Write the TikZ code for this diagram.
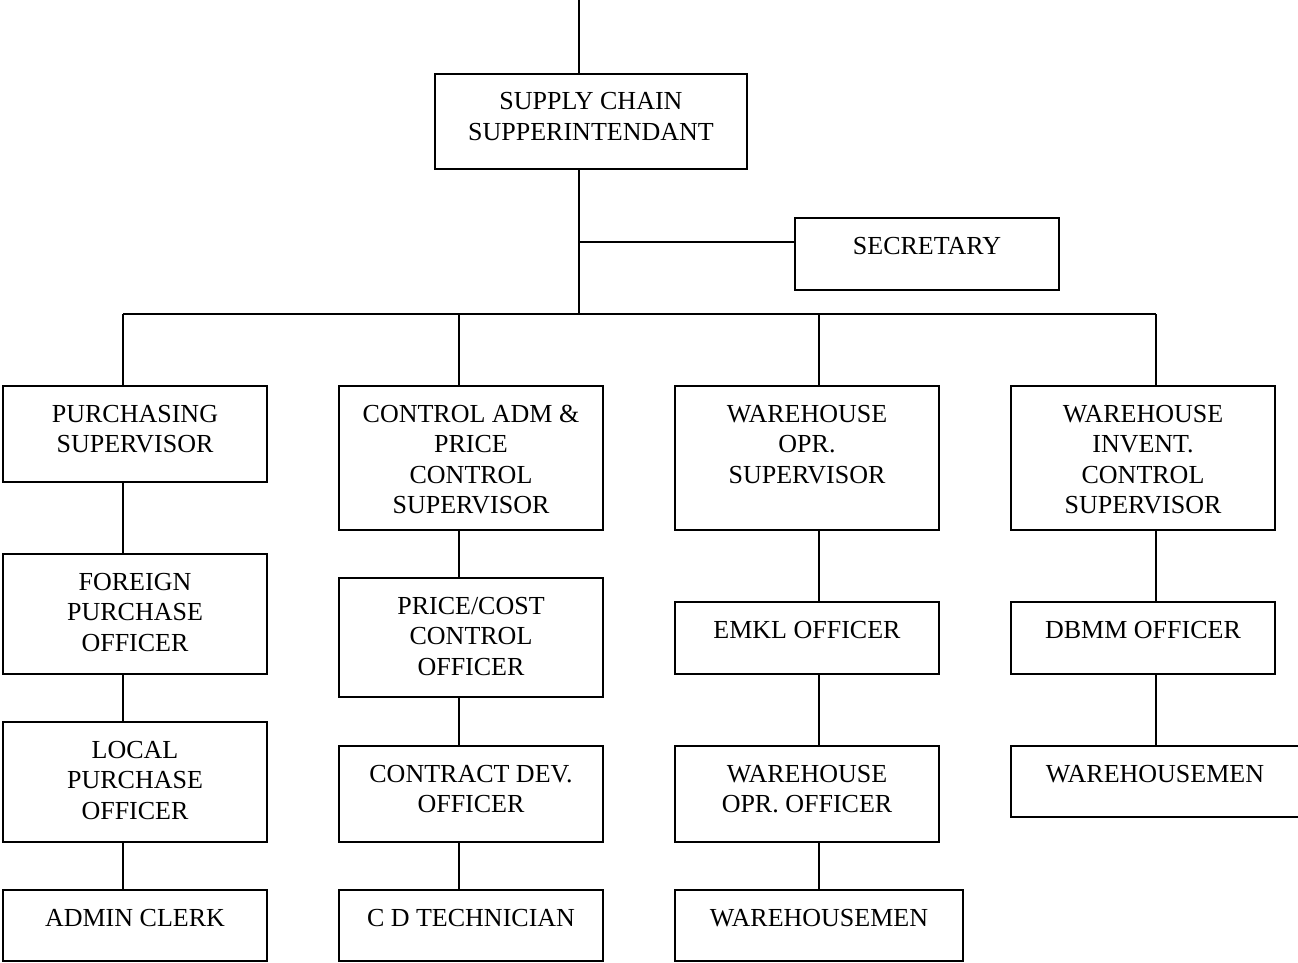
\documentclass[tikz,border=0pt]{standalone}
\usepackage{fontspec}
\setmainfont{Liberation Serif}
\begin{document}
\begin{tikzpicture}[x=1pt, y=-1pt,
  orgbox/.style={draw, line width=2.4pt, rectangle, inner sep=0pt, outer sep=0pt, anchor=north west},
  link/.style={line width=2.4pt}]
\useasboundingbox (0,0) rectangle (1298,963);
\clip (0,0) rectangle (1298,963);
% box: name, left, top, right, bottom, text (first baseline 36pt below the top)
\newcommand\orgunit[6]{%
  \node[orgbox] (#1) at (#2,#3)
    {\parbox[c][\dimexpr#5pt-#3pt\relax][t]{\dimexpr#4pt-#2pt\relax}%
      {\fontsize{26pt}{30.5pt}\selectfont\centering\rule{0pt}{36pt}#6\par}};}

% top level
\orgunit{sc}{435}{74}{747}{169}{SUPPLY CHAIN\\SUPPERINTENDANT}
\orgunit{sec}{795}{218}{1059}{290}{SECRETARY}

% supervisors
\orgunit{ps}{3}{386}{267}{482}{PURCHASING\\SUPERVISOR}
\orgunit{ca}{339}{386}{603}{530}{CONTROL ADM \&\\PRICE\\CONTROL\\SUPERVISOR}
\orgunit{wo}{675}{386}{939}{530}{WAREHOUSE\\OPR.\\SUPERVISOR}
\orgunit{wi}{1011}{386}{1275}{530}{WAREHOUSE\\INVENT.\\CONTROL\\SUPERVISOR}

% purchasing column
\orgunit{fp}{3}{554}{267}{674}{FOREIGN\\PURCHASE\\OFFICER}
\orgunit{lp}{3}{722}{267}{842}{LOCAL\\PURCHASE\\OFFICER}
\orgunit{ac}{3}{890}{267}{961}{ADMIN CLERK}

% control column
\orgunit{pc}{339}{578}{603}{697}{PRICE/COST\\CONTROL\\OFFICER}
\orgunit{cd}{339}{746}{603}{842}{CONTRACT DEV.\\OFFICER}
\orgunit{ct}{339}{890}{603}{961}{C D TECHNICIAN}

% warehouse operations column
\orgunit{em}{675}{602}{939}{674}{EMKL OFFICER}
\orgunit{wof}{675}{746}{939}{842}{WAREHOUSE\\OPR. OFFICER}
\orgunit{wm}{675}{890}{963}{961}{WAREHOUSEMEN}

% warehouse inventory column
\orgunit{db}{1011}{602}{1275}{674}{DBMM OFFICER}
\orgunit{wm2}{1011}{746}{1299}{817}{WAREHOUSEMEN}

% trunk, secretary branch and bus
\coordinate (top) at (579,0);
\coordinate (secj) at (579,242);
\coordinate (trunk) at (579,314);
\coordinate (c1) at (123,314);
\coordinate (c2) at (459,314);
\coordinate (c3) at (819,314);
\coordinate (c4) at (1156,314);

\draw[link] (top) -- (top |- sc.north);
\draw[link] (sc.south -| top) -- (trunk);
\draw[link] (secj) -- (secj -| sec.west);
\draw[link] (c1) -- (c4);

% column drops
\draw[link] (c1) -- (c1 |- ps.north);
\draw[link] (c2) -- (c2 |- ca.north);
\draw[link] (c3) -- (c3 |- wo.north);
\draw[link] (c4) -- (c4 |- wi.north);

\draw[link] (ps.south -| c1) -- (fp.north -| c1);
\draw[link] (fp.south -| c1) -- (lp.north -| c1);
\draw[link] (lp.south -| c1) -- (ac.north -| c1);

\draw[link] (ca.south -| c2) -- (pc.north -| c2);
\draw[link] (pc.south -| c2) -- (cd.north -| c2);
\draw[link] (cd.south -| c2) -- (ct.north -| c2);

\draw[link] (wo.south -| c3) -- (em.north -| c3);
\draw[link] (em.south -| c3) -- (wof.north -| c3);
\draw[link] (wof.south -| c3) -- (wm.north -| c3);

\draw[link] (wi.south -| c4) -- (db.north -| c4);
\draw[link] (db.south -| c4) -- (wm2.north -| c4);
\end{tikzpicture}
\end{document}
